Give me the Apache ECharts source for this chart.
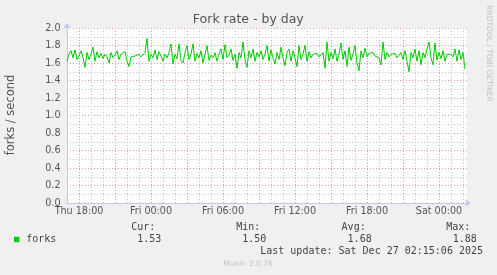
<!DOCTYPE html>
<html><head><meta charset="utf-8">
<script src="https://cdn.jsdelivr.net/npm/echarts@6/dist/echarts.min.js"></script>
<style>html,body{margin:0;padding:0;background:#f0f0f0}#c{width:497px;height:275px}</style>
</head><body><div id="c"></div>
<script>
// forks per second, one value every 10 minutes starting Thu 17:00
const forks = [
1.62,1.70,1.74,1.66,1.75,1.64,1.68,1.74,1.66,1.55,
1.72,1.64,1.70,1.78,1.62,1.73,1.66,1.71,1.65,1.70,
1.67,1.60,1.72,1.66,1.69,1.74,1.64,1.70,1.68,1.73,
1.62,1.56,1.67,1.65,1.68,1.66,1.70,1.67,1.69,1.72,
1.88,1.62,1.70,1.66,1.75,1.64,1.73,1.68,1.62,1.70,
1.66,1.72,1.82,1.59,1.70,1.65,1.82,1.63,1.60,1.72,
1.80,1.64,1.70,1.82,1.62,1.71,1.66,1.74,1.60,1.70,
1.80,1.63,1.69,1.66,1.72,1.62,1.70,1.76,1.64,1.81,
1.66,1.69,1.76,1.63,1.70,1.54,1.72,1.66,1.84,1.64,
1.55,1.74,1.66,1.76,1.62,1.72,1.67,1.74,1.64,1.70,
1.80,1.62,1.75,1.66,1.59,1.72,1.64,1.78,1.66,1.57,
1.72,1.76,1.62,1.74,1.66,1.56,1.80,1.64,1.70,1.80,
1.62,1.73,1.66,1.70,1.68,1.71,1.67,1.69,1.72,1.54,
1.84,1.62,1.72,1.65,1.76,1.62,1.70,1.83,1.64,1.74,
1.56,1.78,1.63,1.70,1.80,1.60,1.51,1.74,1.66,1.77,
1.67,1.71,1.69,1.72,1.68,1.70,1.66,1.58,1.84,1.64,
1.72,1.67,1.70,1.68,1.71,1.66,1.69,1.72,1.64,1.74,
1.62,1.50,1.72,1.66,1.76,1.62,1.74,1.58,1.72,1.66,
1.76,1.84,1.66,1.58,1.83,1.63,1.72,1.65,1.74,1.62,
1.70,1.68,1.70,1.67,1.76,1.62,1.75,1.64,1.72,1.53
];
const tickLabels = ['Thu 18:00','Fri 00:00','Fri 06:00','Fri 12:00','Fri 18:00','Sat 00:00'];
const dayNames = ['Thu','Fri','Sat'];
const statLabels = ['Cur:','Min:','Avg:','Max:'];
const statValues = ['1.53','1.50','1.68','1.88'];
const seriesName = 'forks';
const lastUpdate = 'Last update: Sat Dec 27 02:15:06 2025';

const categories = [];
for (let i = 0; i <= forks.length; i++) {
  const m = 17 * 60 + i * 10;
  const d = Math.floor(m / 1440), hh = Math.floor((m % 1440) / 60), mm = m % 60;
  categories.push(dayNames[d] + ' ' + String(hh).padStart(2, '0') + ':' + String(mm).padStart(2, '0'));
}
const hourOf = v => parseInt(v.split(' ')[1].split(':')[0], 10);
const isHour = v => v.endsWith(':00');

const FONT = 'DejaVu Sans';
const MONO = 'DejaVu Sans Mono';
const AXIS_COLOR = '#c4c4f4';
const RED = '#e89a9a';
const GREY = '#c4c4c4';

function txt(text, x, y, opt) {
  opt = opt || {};
  const align = opt.align || 'left', va = opt.va || 'middle';
  return {
    type: 'text', x: x, y: y, rotation: opt.rot || 0, silent: true,
    style: {
      text: text, x: 0, y: 0, fill: opt.color || '#444',
      font: (opt.size || 10) + 'px "' + (opt.family || MONO) + '"',
      align: align, textAlign: align, verticalAlign: va, textVerticalAlign: va
    }
  };
}

const chart = echarts.init(document.getElementById('c'), null, {renderer: 'canvas'});
const graphics = [
  txt('Fork rate - by day', 248.3, 19.3, {align: 'center', size: 12.5, family: FONT, color: '#555'}),
  txt('forks / second', 11, 115, {align: 'center', size: 11.5, family: FONT, color: '#555', rot: Math.PI / 2}),
  txt('RRDTOOL / TOBI OETIKER', 488.5, 53.5, {align: 'center', size: 7.5, family: FONT, color: '#c0c0c0', rot: -Math.PI / 2}),
  {type: 'rect', shape: {x: 14, y: 236.8, width: 5.4, height: 5.4}, style: {fill: '#00cc00'}, silent: true},
  txt(seriesName, 26.2, 239.5, {}),
  txt(lastUpdate, 483, 251.8, {align: 'right'}),
  txt('Munin 2.0.76', 248, 264.5, {align: 'center', size: 7.6, family: FONT, color: '#c4c4c4'})
];
const headX = [131.2, 236.2, 341.6, 446.3];
const valX = [137.3, 242.3, 347.6, 452.8];
statLabels.forEach((s, i) => graphics.push(txt(s, headX[i], 227.8, {})));
statValues.forEach((s, i) => graphics.push(txt(s, valX[i], 239.5, {})));

chart.setOption({
  animation: false,
  backgroundColor: '#f0f0f0',
  grid: {left: 67, top: 28, width: 400, height: 175, show: true, backgroundColor: '#ffffff', borderWidth: 0},
  xAxis: [{
    type: 'category', data: categories, boundaryGap: false, position: 'bottom',
    axisLine: {show: true, onZero: false, lineStyle: {color: AXIS_COLOR, width: 1},
      symbol: ['none', 'arrow'], symbolSize: [6, 6], symbolOffset: [0, 4]},
    axisTick: {show: false},
    axisLabel: {interval: (i, v) => tickLabels.includes(v), margin: 3.5, color: '#555', fontSize: 9.6, fontFamily: FONT},
    splitLine: {show: true, interval: (i, v) => isHour(v) && hourOf(v) % 3 !== 0, lineStyle: {color: GREY, type: [1, 2], width: 1}}
  }, {
    type: 'category', data: categories, boundaryGap: false, position: 'bottom',
    axisLine: {show: false}, axisTick: {show: false}, axisLabel: {show: false},
    splitLine: {show: true, interval: (i, v) => isHour(v) && hourOf(v) % 3 === 0, lineStyle: {color: RED, type: [1, 2], width: 1}}
  }],
  yAxis: {
    type: 'value', min: 0, max: 2, interval: 0.2,
    axisLine: {show: true, lineStyle: {color: AXIS_COLOR, width: 1},
      symbol: ['none', 'arrow'], symbolSize: [6, 6], symbolOffset: [0, 5]},
    axisTick: {show: false},
    axisLabel: {formatter: v => v.toFixed(1), margin: 6.5, color: '#555', fontSize: 9.6, fontFamily: FONT},
    splitLine: {show: true, lineStyle: {color: RED, type: [1, 2], width: 1}},
    minorTick: {show: false, splitNumber: 2},
    minorSplitLine: {show: true, lineStyle: {color: GREY, type: [1, 2], width: 1}}
  },
  series: [{
    name: seriesName, type: 'line', xAxisIndex: 0, data: forks, showSymbol: false, symbol: 'none',
    lineStyle: {color: '#00cc00', width: 1}, itemStyle: {color: '#00cc00'}, z: 5
  }],
  graphic: graphics
});
</script></body></html>
